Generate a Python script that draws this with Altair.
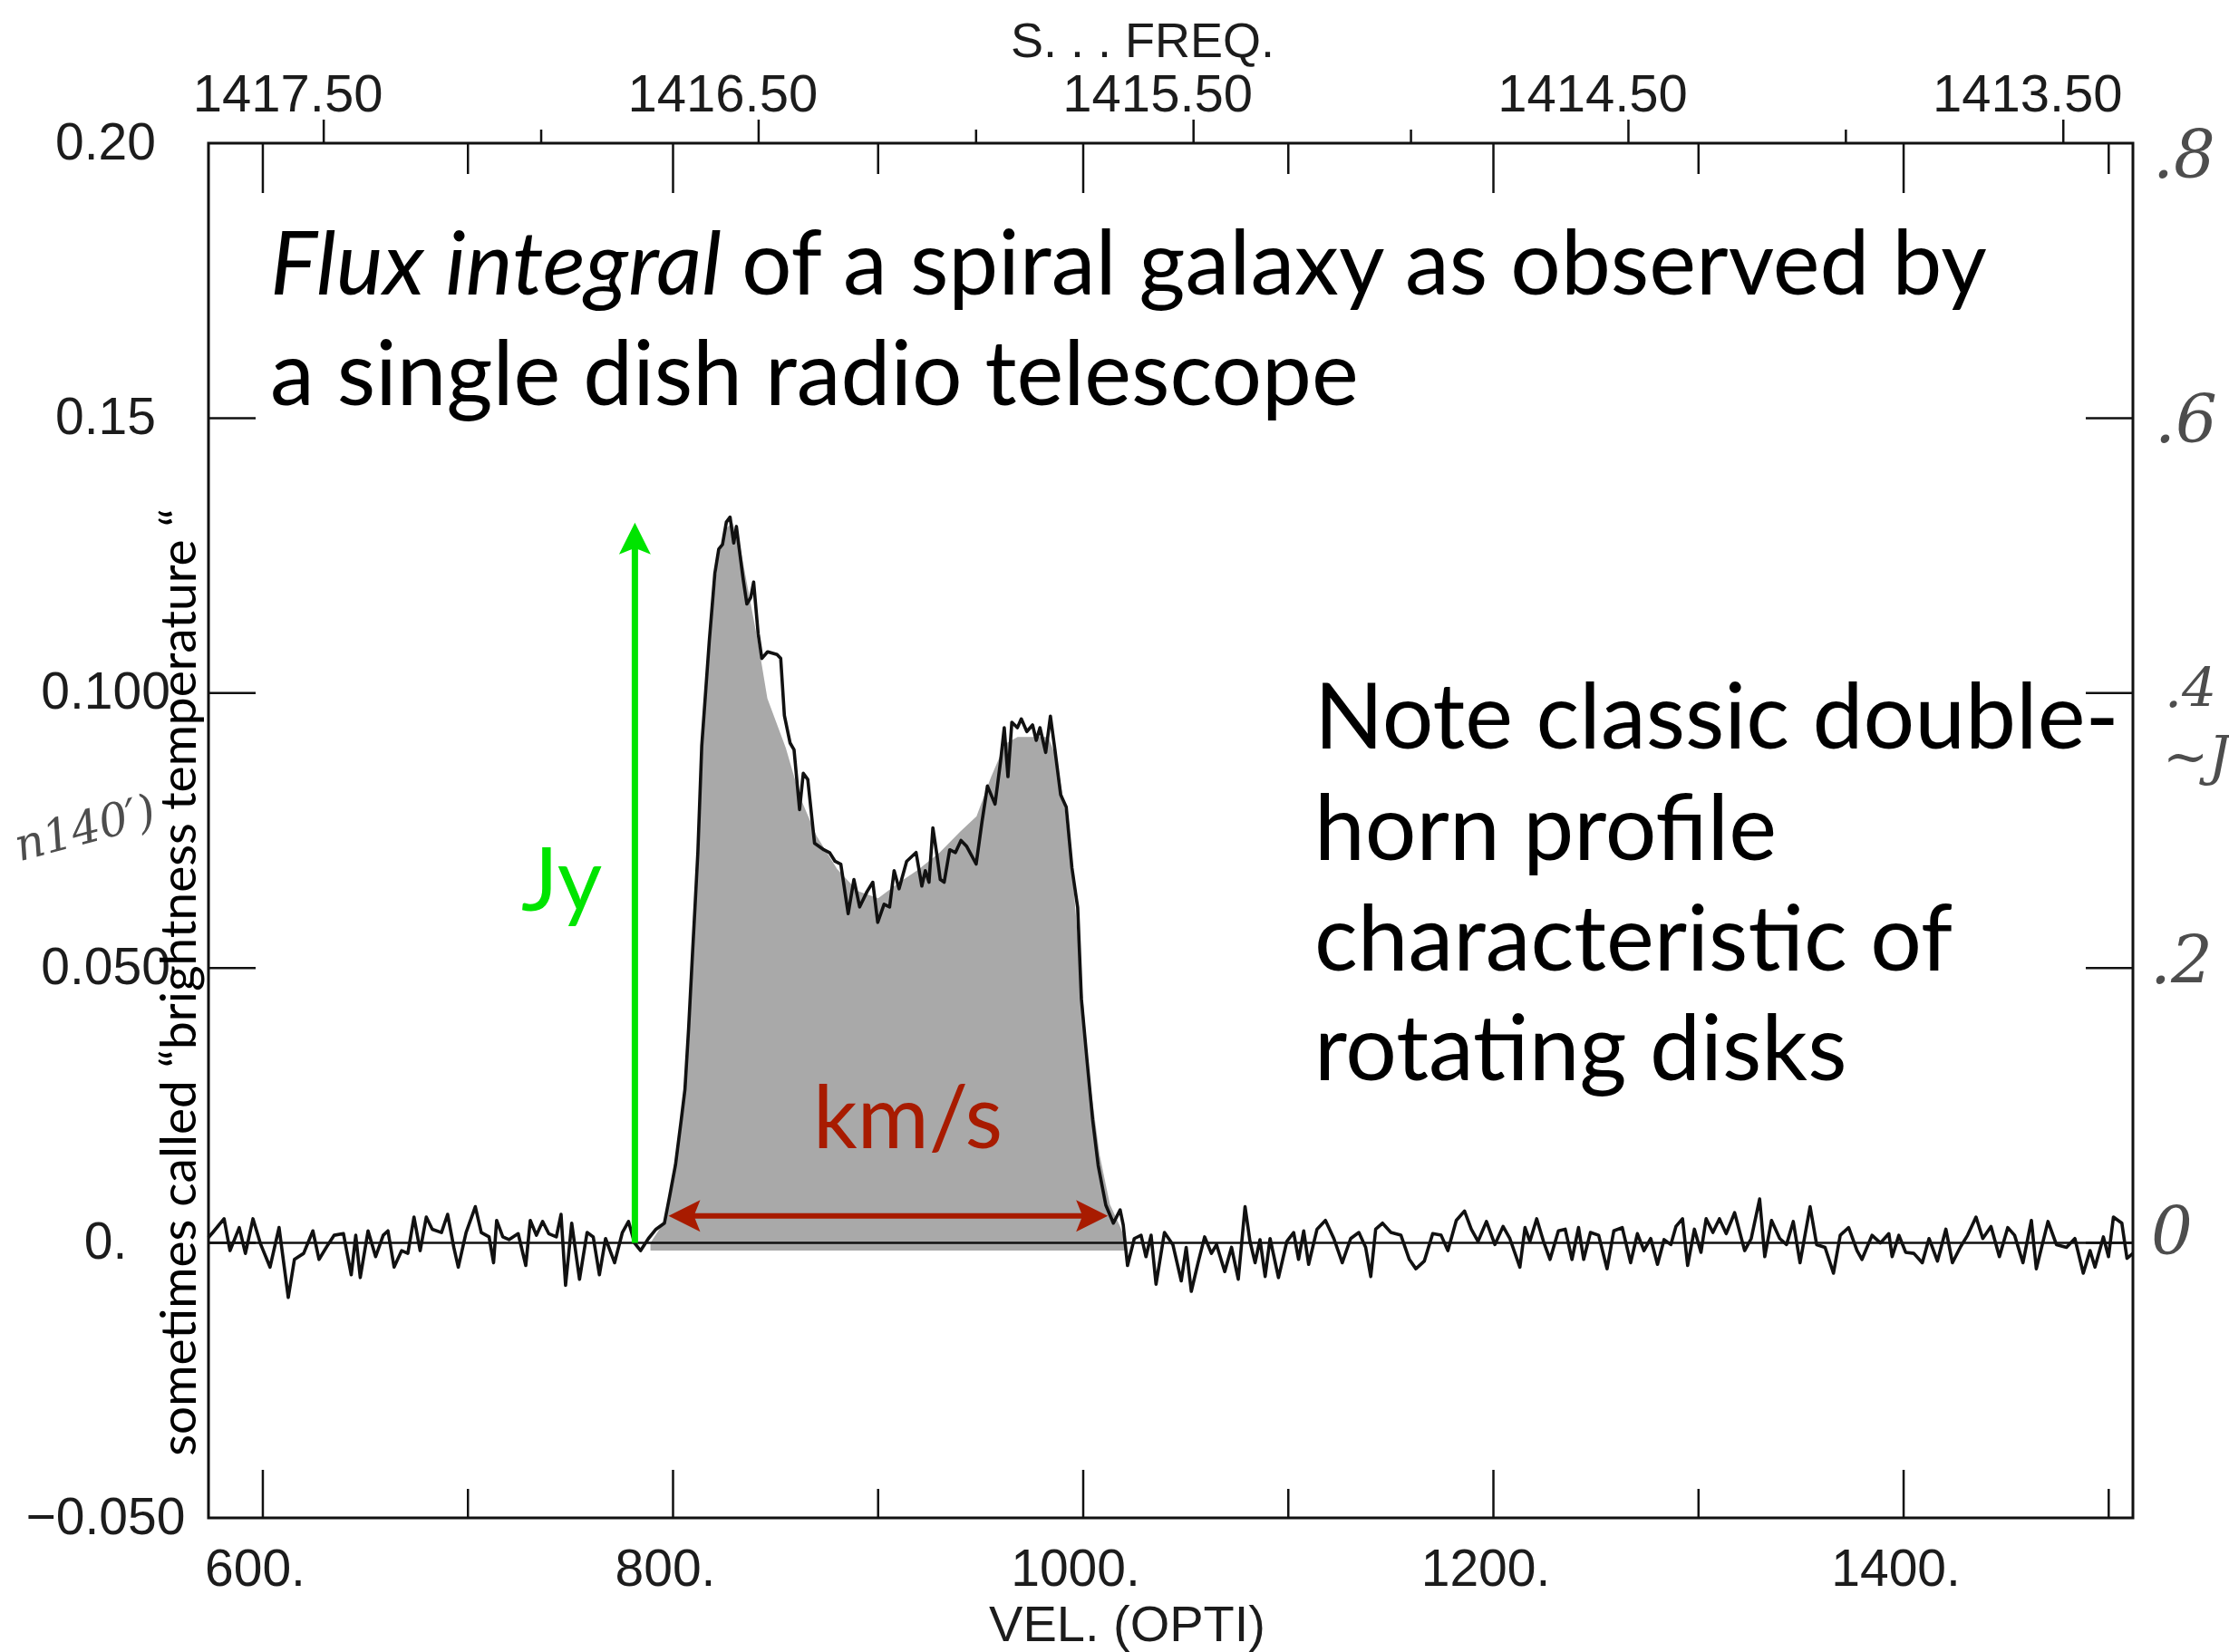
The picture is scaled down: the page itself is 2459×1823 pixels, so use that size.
import altair as alt
import pandas as pd

# ---------------- data ----------------
# spectrum: velocity (km/s) and flux density (Jy)
velocity = [
    573.5, 575.8, 581.1, 584.0, 588.5, 591.5, 595.2, 599.0, 603.5, 607.9, 612.4, 615.4, 619.9,
    624.4, 627.4, 631.8, 634.8, 639.3, 643.1, 645.3, 647.5, 651.3, 655.0, 658.7, 661.0, 664.0,
    667.7, 670.7, 673.7, 676.7, 679.7, 682.6, 687.1, 690.1, 693.1, 695.3, 699.1, 703.6, 706.5,
    710.3, 712.5, 714.0, 717.0, 720.0, 724.5, 728.2, 730.4, 733.4, 736.4, 739.4, 743.1, 745.4,
    747.6, 750.6, 754.4, 758.1, 761.1, 764.1, 767.1, 771.5, 775.3, 778.3, 781.2, 784.2, 788.0,
    791.7,
    795.8, 798.4, 801.2, 804.0, 805.8, 807.6, 809.5, 810.7, 812.1, 814.0, 817.7, 820.4, 822.3,
    824.1, 826.0, 827.8, 829.6, 830.9, 832.3, 834.2, 836.0, 837.9, 839.3, 841.5, 843.3, 846.1,
    850.7, 852.5, 854.3, 857.1, 859.0, 861.7, 863.5, 865.7, 869.0, 873.5, 876.3, 879.0, 881.8,
    885.4, 888.2, 891.0, 894.6, 897.4, 899.8, 902.9, 905.6, 907.8, 910.2, 913.9, 918.5, 921.3,
    923.0, 924.8, 926.7, 928.5, 930.3, 932.2, 934.9, 937.7, 940.4, 943.2, 947.8, 950.6, 953.3,
    957.0, 959.7, 961.5, 963.3, 965.2, 967.9, 969.8, 972.5, 975.3, 977.1, 978.9, 981.7, 984.0,
    986.2, 989.0, 991.7, 994.5, 997.3, 999.1, 1001.8, 1004.6, 1007.3, 1011.0, 1014.7, 1018.0,
    1019.5, 1021.6,
    1024.9, 1028.2, 1030.6, 1033.1, 1035.5, 1039.6, 1043.7, 1047.8, 1050.2, 1052.7, 1056.0,
    1059.2, 1062.5, 1065.0, 1069.0, 1072.3, 1075.6, 1078.9, 1081.3, 1083.8, 1086.2, 1088.7,
    1091.1, 1095.2, 1099.3, 1102.6, 1105.0, 1107.5, 1109.9, 1114.0, 1118.1, 1122.2, 1126.3,
    1130.4, 1134.4, 1137.7, 1140.2, 1142.6, 1145.9, 1150.0, 1154.9, 1159.0, 1162.2, 1166.3,
    1170.4, 1174.5, 1177.8, 1181.9, 1185.9, 1189.2, 1192.5, 1196.6, 1200.7, 1204.7, 1208.0,
    1212.9, 1215.4, 1217.8, 1221.1, 1224.4, 1227.6, 1231.7, 1235.0, 1238.3, 1241.5, 1244.0,
    1247.3, 1251.3, 1255.4, 1258.7, 1262.8, 1266.9, 1270.2, 1273.4, 1276.7, 1280.0, 1283.2,
    1286.5, 1289.0, 1292.2, 1294.7, 1298.0, 1301.2, 1303.7, 1307.0, 1310.2, 1313.5, 1317.6,
    1322.5, 1325.7, 1329.8, 1332.3, 1335.6, 1339.6, 1342.9, 1346.2, 1349.5, 1354.4, 1357.6,
    1361.7, 1365.8, 1369.1, 1373.2, 1377.3, 1379.7, 1384.6, 1388.7, 1392.8, 1394.4, 1397.7,
    1401.0, 1405.0, 1409.1, 1412.4, 1416.5, 1420.6, 1423.8, 1427.9, 1431.2, 1435.3, 1438.6,
    1442.6, 1446.7, 1450.8, 1454.1, 1458.2, 1462.3, 1464.7, 1470.4, 1474.5, 1479.4, 1483.5,
    1487.6, 1490.9, 1493.3, 1497.4, 1499.9, 1502.3, 1506.4, 1508.9, 1511.8,
]
flux = [
    0.0010, 0.0020, 0.0044, -0.0014, 0.0028, -0.0019, 0.0044, -0.0003, -0.0044, 0.0028, -0.0099,
    -0.0030, -0.0019, 0.0022, -0.0030, -0.0003, 0.0014, 0.0017, -0.0058, 0.0014, -0.0063, 0.0022,
    -0.0025, 0.0014, 0.0022, -0.0044, -0.0014, -0.0019, 0.0047, -0.0014, 0.0047, 0.0025, 0.0019,
    0.0052, -0.0008, -0.0044, 0.0019, 0.0066, 0.0019, 0.0011, -0.0036, 0.0041, 0.0011, 0.0006,
    0.0017, -0.0041, 0.0041, 0.0014, 0.0039, 0.0017, 0.0011, 0.0052, -0.0077, 0.0036, -0.0066,
    0.0019, 0.0011, -0.0058, 0.0008, -0.0036, 0.0019, 0.0039, 0.0000, -0.0014, 0.0008, 0.0025,
    0.0036, 0.0086, 0.0142, 0.0224, 0.0279, 0.0390, 0.0527, 0.0610, 0.0710, 0.0904, 0.1096,
    0.1218, 0.1262, 0.1270, 0.1311, 0.1320, 0.1273, 0.1303, 0.1262, 0.1207, 0.1162, 0.1174,
    0.1202, 0.1108, 0.1063, 0.1075, 0.1070, 0.1063, 0.0959, 0.0909, 0.0897, 0.0788, 0.0854,
    0.0843, 0.0727, 0.0715, 0.0710, 0.0694, 0.0689, 0.0599, 0.0661, 0.0611, 0.0639, 0.0656,
    0.0583, 0.0616, 0.0611, 0.0677, 0.0644, 0.0694, 0.0710, 0.0649, 0.0677, 0.0656, 0.0755,
    0.0710, 0.0661, 0.0656, 0.0715, 0.0710, 0.0732, 0.0721, 0.0689, 0.0765, 0.0831, 0.0798,
    0.0876, 0.0937, 0.0848, 0.0947, 0.0937, 0.0953, 0.0930, 0.0942, 0.0914, 0.0937, 0.0892,
    0.0958, 0.0897, 0.0815, 0.0793, 0.0682, 0.0610, 0.0444, 0.0334, 0.0224, 0.0141, 0.0069,
    0.0036, 0.0060, 0.0033, -0.0041,
    0.0008, 0.0014, -0.0025, 0.0014, -0.0075, 0.0019, -0.0003, -0.0069, -0.0008, -0.0088,
    -0.0036, 0.0011, -0.0019, -0.0003, -0.0052, -0.0008, -0.0066, 0.0066, 0.0003, -0.0036,
    0.0006, -0.0061, 0.0008, -0.0063, 0.0003, 0.0019, -0.0030, 0.0022, -0.0039, 0.0025, 0.0041,
    0.0008, -0.0036, 0.0008, 0.0019, -0.0008, -0.0061, 0.0025, 0.0036, 0.0019, 0.0014, -0.0030,
    -0.0047, -0.0033, 0.0017, 0.0014, -0.0014, 0.0041, 0.0058, 0.0025, 0.0003, 0.0039, -0.0003,
    0.0030, 0.0008, -0.0044, 0.0028, 0.0003, 0.0044, 0.0003, -0.0030, 0.0022, 0.0025, -0.0030,
    0.0028, -0.0030, 0.0019, 0.0014, -0.0047, 0.0022, 0.0028, -0.0036, 0.0017, -0.0014, 0.0008,
    -0.0039, 0.0006, -0.0003, 0.0030, 0.0044, -0.0041, 0.0025, -0.0017, 0.0044, 0.0019, 0.0044,
    0.0017, 0.0055, -0.0014, 0.0008, 0.0080, -0.0025, 0.0041, 0.0008, -0.0003, 0.0039, -0.0036,
    0.0066, -0.0003, -0.0008, -0.0055, 0.0014, 0.0028, -0.0014, -0.0030, 0.0014, 0.0000, 0.0017,
    -0.0025, 0.0014, -0.0017, -0.0019, -0.0036, 0.0008, -0.0033, 0.0025, -0.0036, -0.0006,
    0.0014, 0.0047, 0.0008, 0.0030, -0.0025, 0.0028, 0.0014, -0.0036, 0.0041, -0.0047, 0.0039,
    -0.0003, -0.0008, 0.0008, -0.0055, -0.0014, -0.0044, 0.0011, -0.0025, 0.0047, 0.0036,
    -0.0028, -0.0019,
]

# smooth grey envelope (the shaded flux integral)
fill_velocity = [789, 796, 801, 806, 810, 814, 818, 822, 826, 829, 833, 837, 842, 846, 855, 862,
                 870, 880, 890, 900, 910, 920, 930, 940, 948, 955, 962, 968, 976, 983, 987, 991,
                 995, 999, 1003, 1008, 1013, 1018, 1021]
fill_flux = [0.000, 0.004, 0.014, 0.030, 0.055, 0.090, 0.110, 0.125, 0.130, 0.131, 0.126, 0.118,
             0.108, 0.099, 0.090, 0.081, 0.074, 0.068, 0.064, 0.0627, 0.0655, 0.068, 0.071,
             0.0748, 0.0776, 0.0847, 0.0908, 0.092, 0.092, 0.092, 0.088, 0.079, 0.066, 0.048,
             0.030, 0.016, 0.007, 0.003, 0.000]
fill_floor = -0.0014

# axes
vel_domain = [573.5, 1511.8]
freq_domain = [1413.34, 1417.765]
flux_domain = [-0.05, 0.20]
vel_major_ticks = [600, 800, 1000, 1200, 1400]
vel_minor_ticks = [700, 900, 1100, 1300, 1500]
freq_major_ticks = [1417.5, 1416.5, 1415.5, 1414.5, 1413.5]
freq_minor_ticks = [1417.0, 1416.0, 1415.0, 1414.0]
flux_ticks = [0.20, 0.15, 0.10, 0.05, 0.0, -0.05]
flux_tick_labels = ["0.20", "0.15", "0.100", "0.050", "0.", "\u22120.050"]
frame_flux_ticks = [0.15, 0.10, 0.05, 0.0]

# annotation arrows
jy_arrow = {"v": 781.4, "y0": 0.0, "y1": 0.1265, "tip": 0.131}
kms_arrow = {"y": 0.0049, "v0": 797.8, "v1": 1012.0, "s0": 808.0, "s1": 1002.0}

# ---------------- layout ----------------
W, H = 2123, 1517
PAD = {"left": 230, "top": 158, "right": 2459 - 230 - W, "bottom": 1823 - 158 - H}
AX_FONT = "Liberation Sans"
TXT_FONT = "Lato"
INK = "#1c1c1c"
ZWNJ = "\u200c"  # keeps "t" and "i" from fusing into a ligature

yexpr = "".join(
    f"abs(datum.value-({v}))<1e-9?'{lab}':" for v, lab in zip(flux_ticks, flux_tick_labels)
) + "''"

vscale = alt.Scale(domain=vel_domain, nice=False, zero=False)
fscale = alt.Scale(domain=freq_domain, nice=False, zero=False, reverse=True)
yscale = alt.Scale(domain=flux_domain, nice=False, zero=False)

vaxis = alt.Axis(values=vel_major_ticks, labelExpr="datum.value + '.'", ticks=False,
                 domain=False, grid=False, labelFont=AX_FONT, labelFontSize=57,
                 labelColor=INK, labelPadding=29, labelFlush=False, labelOverlap=False,
                 labelLimit=0, labelOffset=-9,
                 title="VEL. (OPTI)", titleFont=AX_FONT, titleFontSize=56,
                 titleFontWeight="normal", titleColor=INK, titleX=1013, titleY=135,
                 titleBaseline="alphabetic", titleAlign="center", titleAnchor="start")
faxis = alt.Axis(orient="top", values=freq_major_ticks, labelExpr="format(datum.value, '.2f')",
                 ticks=False, domain=False, grid=False, labelFont=AX_FONT, labelFontSize=58,
                 labelColor=INK, labelPadding=24, labelFlush=False, labelOverlap=False,
                 labelLimit=0, labelOffset=-40,
                 title="S. . .   FREQ.", titleFont=AX_FONT, titleFontSize=54,
                 titleFontWeight="normal", titleColor=INK, titleX=1030, titleY=-96,
                 titleBaseline="alphabetic", titleAlign="center", titleAnchor="start")
yaxis = alt.Axis(values=flux_ticks, labelExpr=yexpr, ticks=False, domain=False, grid=False,
                 labelFont=AX_FONT, labelFontSize=57, labelColor=INK, labelAlign="center",
                 labelBaseline="middle", labelPadding=114, labelOverlap=False,
                 labelFlush=False, labelLimit=0, title=None)

X = alt.X("v:Q", scale=vscale, axis=vaxis)
Y = alt.Y("y:Q", scale=yscale, axis=yaxis)
XF = alt.X("f:Q", scale=fscale, axis=faxis)

spec_df = pd.DataFrame({"v": velocity, "y": flux})
fill_df = pd.DataFrame({"v": fill_velocity, "y": fill_flux})
one = alt.Data(values=[{}])

fill = alt.Chart(fill_df).mark_area(color="#a9a9a9", opacity=1).encode(
    x=X, y=Y, y2=alt.datum(fill_floor))
zero_line = alt.Chart(pd.DataFrame({"y": [0.0]})).mark_rule(color="#111", strokeWidth=2.5).encode(
    y=Y, x=alt.value(0), x2=alt.value(W))
spectrum = alt.Chart(spec_df).mark_line(color="#111", strokeWidth=3.6,
                                        strokeJoin="round").encode(x=X, y=Y)

# inward frame ticks
def vticks(vals, y0, y1):
    return alt.Chart(pd.DataFrame({"v": vals})).mark_rule(color="#111", strokeWidth=2.5).encode(
        x=X, y=alt.value(y0), y2=alt.value(y1))

def hticks(x0, x1):
    return alt.Chart(pd.DataFrame({"y": frame_flux_ticks})).mark_rule(
        color="#111", strokeWidth=2.5).encode(y=Y, x=alt.value(x0), x2=alt.value(x1))

tick_layers = [
    vticks(vel_major_ticks, H, H - 53), vticks(vel_minor_ticks, H, H - 32),
    vticks(vel_major_ticks, 0, 55), vticks(vel_minor_ticks, 0, 34),
    hticks(0, 52), hticks(W - 52, W),
]

GREEN = "#00e400"
RED = "#a81b00"
green_shaft = alt.Chart(pd.DataFrame({"v": [jy_arrow["v"]], "y": [jy_arrow["y0"]],
                                      "y1": [jy_arrow["y1"]]})).mark_rule(
    color=GREEN, strokeWidth=7).encode(x=X, y=Y, y2="y1:Q")
green_head = alt.Chart(pd.DataFrame({"v": [jy_arrow["v"]], "y": [jy_arrow["tip"]]})).mark_point(
    shape="M0,0 L-1,2 L0,1.6 L1,2 Z", filled=True, size=1225, color=GREEN, opacity=1,
    strokeWidth=0).encode(x=X, y=Y)
red_shaft = alt.Chart(pd.DataFrame({"v": [kms_arrow["s0"]], "v1": [kms_arrow["s1"]],
                                    "y": [kms_arrow["y"]]})).mark_rule(
    color=RED, strokeWidth=6).encode(x=X, x2="v1:Q", y=Y)
red_head_l = alt.Chart(pd.DataFrame({"v": [kms_arrow["v0"]], "y": [kms_arrow["y"]]})).mark_point(
    shape="M0,0 L2,-1 L1.6,0 L2,1 Z", filled=True, size=1225, color=RED, opacity=1,
    strokeWidth=0).encode(x=X, y=Y)
red_head_r = alt.Chart(pd.DataFrame({"v": [kms_arrow["v1"]], "y": [kms_arrow["y"]]})).mark_point(
    shape="M0,0 L-2,-1 L-1.6,0 L-2,1 Z", filled=True, size=1225, color=RED, opacity=1,
    strokeWidth=0).encode(x=X, y=Y)

def label(text, x, y, size=98, color="#000", font=TXT_FONT, style="normal", angle=0,
          align="left", baseline="alphabetic"):
    kw = dict(font=font, fontSize=size, color=color, fontStyle=style, align=align,
              baseline=baseline)
    if angle:
        kw["angle"] = angle
    return alt.Chart(one).mark_text(**kw).encode(
        x=alt.value(x), y=alt.value(y), text=alt.value(text))

texts = [
    label("Flux integral", 68, 167, style="italic"),
    label("of a spiral galaxy as observed by", 588, 167),
    label("a single dish radio telescope", 68, 289),
    label("Note classic double-", 1220, 668, size=100),
    label("horn profile", 1220, 791, size=100),
    label(f"characteris{ZWNJ}tic of", 1220, 913, size=100),
    label(f"rota{ZWNJ}ting disks", 1220, 1034, size=100),
    label("Jy", 345, 847, size=96, color=GREEN),
    label("km/s", 667, 1109, size=96, color=RED),
    label("sometimes called \u201cbrightness temperature \u201c", -14, 926, size=55,
          angle=270, align="center"),
]
HAND = "#4d4d4d"
hand = [
    label(".8", 2145, 38, size=72, color=HAND, font="DejaVu Serif", style="italic"),
    label(".6", 2147, 330, size=72, color=HAND, font="DejaVu Serif", style="italic"),
    label(".4", 2158, 622, size=60, color=HAND, font="DejaVu Serif", style="italic"),
    label("~J", 2156, 697, size=60, color=HAND, font="DejaVu Serif", style="italic"),
    label(".2", 2142, 927, size=72, color=HAND, font="DejaVu Serif", style="italic"),
    label("0", 2143, 1226, size=72, color=HAND, font="DejaVu Serif", style="italic"),
    label("n140\u2032)", -132, 772, size=50, color=HAND, font="DejaVu Serif", style="italic",
          angle=345, align="center"),
]

vel_layer = alt.layer(fill, zero_line, spectrum, *tick_layers, green_shaft, green_head,
                      red_shaft, red_head_l, red_head_r, *texts, *hand)

freq_major = alt.Chart(pd.DataFrame({"f": freq_major_ticks})).mark_rule(
    color="#111", strokeWidth=2.5).encode(x=XF, y=alt.value(-26), y2=alt.value(0))
freq_minor = alt.Chart(pd.DataFrame({"f": freq_minor_ticks})).mark_rule(
    color="#111", strokeWidth=2.5).encode(x=XF, y=alt.value(-15), y2=alt.value(0))
freq_layer = alt.layer(freq_major, freq_minor)

chart = alt.layer(vel_layer, freq_layer).resolve_scale(x="independent").properties(
    width=W, height=H, padding=PAD, autosize=alt.AutoSizeParams(type="none"),
    background="white",
).configure_view(stroke="#111", strokeWidth=3)

chart.save("out.html", embed_options={"renderer": "svg", "actions": False})
